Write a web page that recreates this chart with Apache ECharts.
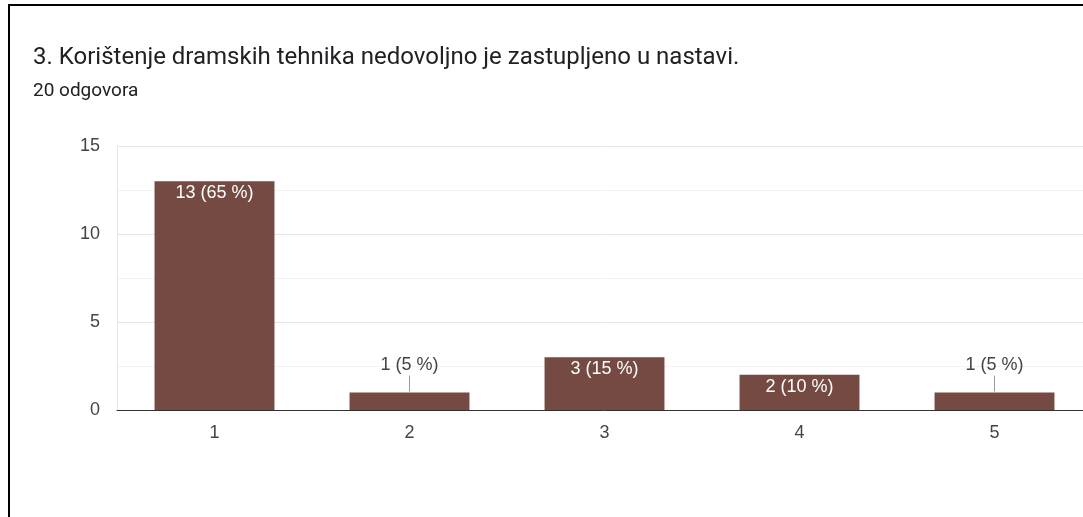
<!DOCTYPE html>
<html>
<head>
<meta charset="utf-8">
<script src="https://cdn.jsdelivr.net/npm/echarts@6/dist/echarts.min.js"></script>
<style>
  html, body { margin: 0; padding: 0; background: #fff; overflow: hidden; width: 1083px; height: 517px; }
  #frame {
    position: absolute; left: 8px; top: 4px; width: 1200px; height: 600px;
    border-left: 2px solid #000; border-top: 2px solid #000;
  }
  #chart { position: absolute; left: 0; top: 0; width: 1110px; height: 517px; }
</style>
</head>
<body>
<div id="frame"></div>
<div id="chart"></div>
<script>
// odgovori na skali 1-5
var categories = ['1', '2', '3', '4', '5'];
var counts = [13, 1, 3, 2, 1];
var percents = [65, 5, 15, 10, 5];
var yTicks = [0, 5, 10, 15];

var titleText = '3. Korištenje dramskih tehnika nedovoljno je zastupljeno u nastavi.';
var subText = '20 odgovora';

var barColor = '#744a42';

var myChart = echarts.init(document.getElementById('chart'));

var data = counts.map(function (v, i) {
    var item = { value: v };
    // mali stupci - oznaka iznad, s crticom do stupca
    if (v < 2) {
        item.label = {
            position: 'top',
            distance: 0,
            color: '#444',
            lineHeight: 18,
            formatter: function (p) {
                return p.value + ' (' + percents[p.dataIndex] + ' %)\n{line|}';
            },
            rich: {
                line: { width: 1, height: 16, backgroundColor: '#999' }
            }
        };
    }
    return item;
});

myChart.setOption({
    animation: false,
    title: [{
        text: titleText,
        left: 28,
        top: 41,
        textStyle: { fontFamily: 'Roboto', fontSize: 24, fontWeight: 'normal', color: '#202124' }
    }, {
        text: subText,
        left: 28,
        top: 77,
        textStyle: { fontFamily: 'Roboto', fontSize: 19, fontWeight: 'normal', color: '#202124' }
    }],
    grid: { left: 117, top: 146, width: 975, height: 264 },
    xAxis: {
        type: 'category',
        data: categories,
        axisTick: { show: false },
        axisLine: { lineStyle: { color: '#333', width: 1 } },
        axisLabel: { fontFamily: 'Liberation Sans', fontSize: 18, color: '#444', margin: 14 }
    },
    yAxis: {
        type: 'value',
        min: yTicks[0],
        max: yTicks[yTicks.length - 1],
        interval: 5,
        axisLine: { show: true, lineStyle: { color: '#e6e6e6' } },
        axisTick: { show: false },
        axisLabel: { fontFamily: 'Liberation Sans', fontSize: 18, color: '#444', margin: 17 },
        splitLine: { lineStyle: { color: '#e6e6e6' } },
        minorTick: { show: false, splitNumber: 2 },
        minorSplitLine: { show: true, lineStyle: { color: '#f3f3f3' } }
    },
    series: [{
        type: 'bar',
        data: data,
        barWidth: '61.5%',
        itemStyle: { color: barColor },
        label: {
            show: true,
            position: 'insideTop',
            distance: 3,
            color: '#fff',
            fontFamily: 'Liberation Sans',
            fontSize: 18,
            formatter: function (p) {
                return p.value + ' (' + percents[p.dataIndex] + ' %)';
            }
        }
    }]
});
</script>
</body>
</html>
